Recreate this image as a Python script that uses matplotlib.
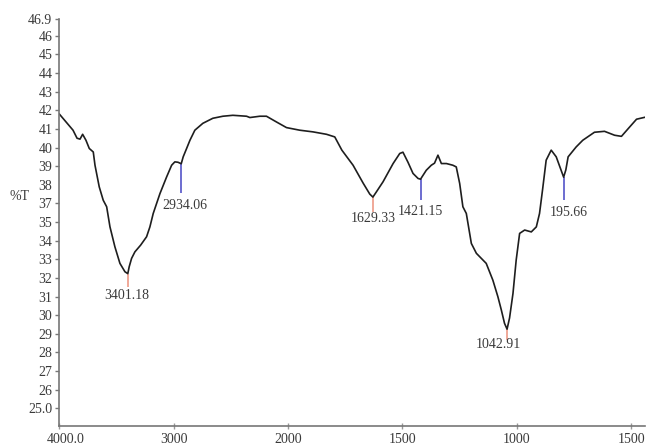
import numpy as np
import matplotlib
matplotlib.use("Agg")
import matplotlib.pyplot as plt
from matplotlib.transforms import ScaledTranslation

# IR transmittance spectrum (wavenumber in cm^-1, transmittance in %T)
wavenumber = [4000, 3880, 3845, 3819, 3796, 3767, 3738, 3703, 3688, 3651,
              3616, 3586, 3557, 3514, 3470, 3426, 3401.18, 3389, 3368, 3339,
              3289, 3237, 3208, 3179, 3120, 3062, 3018, 2990, 2963, 2934.06,
              2917, 2887, 2858, 2815, 2745, 2658, 2570, 2483, 2363, 2334,
              2247, 2189, 2101, 2014, 1949, 1891, 1832, 1796, 1765, 1716,
              1672, 1643, 1629.33, 1614, 1585, 1541, 1512, 1498, 1476, 1454,
              1432, 1421.15, 1396, 1374, 1360, 1345, 1330, 1308, 1280, 1265,
              1250, 1236, 1221, 1199, 1177, 1134, 1105, 1083, 1068, 1054,
              1042.91, 1032, 1017, 1003, 988, 966, 937, 915, 901, 888,
              872, 850, 828, 795.66, 786, 776, 741, 712, 661, 617,
              573, 543, 508, 477, 442]
transmittance = [41.80, 40.93, 40.50, 40.45, 40.71, 40.39, 39.95, 39.76, 39.05, 37.89,
                 37.17, 36.82, 35.74, 34.67, 33.78, 33.33, 33.23, 33.60, 34.05, 34.40,
                 34.76, 35.21, 35.74, 36.46, 37.53, 38.42, 39.05, 39.23, 39.21, 39.13,
                 39.50, 39.95, 40.39, 40.93, 41.30, 41.57, 41.68, 41.73, 41.68, 41.61,
                 41.68, 41.68, 41.37, 41.07, 40.93, 40.84, 40.71, 40.57, 39.86, 39.05,
                 38.09, 37.50, 37.34, 37.62, 38.16, 39.14, 39.68, 39.75, 39.21, 38.61,
                 38.34, 38.30, 38.78, 39.05, 39.16, 39.59, 39.14, 39.14, 39.05, 38.96,
                 38.07, 36.82, 36.46, 34.85, 34.32, 33.78, 32.88, 31.99, 31.28, 30.56,
                 30.25, 30.85, 32.17, 33.96, 35.39, 35.57, 35.47, 35.74, 36.46, 37.71,
                 39.32, 39.86, 39.50, 38.41, 38.80, 39.50, 40.03, 40.39, 40.82, 40.87,
                 40.66, 40.60, 41.09, 41.52, 41.62]

# Picked peaks
peak_wn = [3401.18, 2934.06, 1629.33, 1421.15, 1042.91, 795.66]
peak_t = [33.23, 39.13, 37.34, 38.30, 30.25, 38.41]
peak_text = ["3401.18", "2934.06", "1629.33", "1421.15", "1042.91", "195.66"]
peak_colors = ["#f0a898", "#6c6cd0", "#f0a898", "#6c6cd0", "#f0a898", "#6c6cd0"]

x_ticks = [4000, 3000, 2000, 1500, 1000, 500]
x_labels = ["4000.0", "3000", "2000", "1500", "1000", "1500"]
y_ticks = [46.9, 46, 45, 44, 43, 42, 41, 40, 39, 38, 37, 36, 35, 34, 33,
           32, 31, 30, 29, 28, 27, 26]
y_labels = ["46.9", "46", "45", "44", "43", "42", "41", "40", "39", "38", "37",
            "35", "34", "33", "32", "31", "30", "29", "28", "27", "26", "25.0"]

plt.rcParams["font.family"] = ["Liberation Serif", "DejaVu Serif"]
TXT = "#3a3a3a"

fig = plt.figure(figsize=(6.46, 4.45), dpi=100)
ax = fig.add_axes([59.3 / 646, 1 - 426 / 445, (645 - 59.3) / 646, 407 / 445])


# Below 2000 cm^-1 the wavenumber axis is expanded twofold
def fwd(x):
    x = np.asarray(x, dtype=float)
    return np.where(x >= 2000, x, 2 * x - 2000)


def inv(u):
    u = np.asarray(u, dtype=float)
    return np.where(u >= 2000, u, (u + 2000) / 2)


ax.set_xscale("function", functions=(fwd, inv))
ax.set_xlim(4000, 440)
ax.set_ylim(25.05, 46.9)

ax.plot(wavenumber, transmittance, color="#1e1e1e", lw=1.2)

# Peak markers and labels: (line end below peak, label offset in points)
drops = [0.72, 1.58, 0.81, 1.13, 0.58, 1.24]
label_dy = [1.20, 2.22, 1.13, 1.72, 0.85, 1.88]
label_dx = [-0.5, 2.6, 0.0, 0.0, -6.5, 3.5]
for wn, t, txt, c, dr, dy, dx in zip(peak_wn, peak_t, peak_text, peak_colors,
                                     drops, label_dy, label_dx):
    ax.vlines(wn, t - dr, t, color=c, lw=1.4, zorder=1)
    ax.annotate(txt, xy=(wn, t - dy), xytext=(dx, 0), textcoords="offset points",
                ha="center", va="center", fontsize=10, color=TXT)

ax.set_xticks(x_ticks)
ax.set_xticklabels(x_labels)
ax.set_yticks(y_ticks)
ax.set_yticklabels(y_labels)
ax.xaxis.set_minor_locator(matplotlib.ticker.NullLocator())
ax.yaxis.set_minor_locator(matplotlib.ticker.NullLocator())
ax.tick_params(axis="y", direction="out", length=3, width=1, color="#777777",
               labelsize=10, labelcolor=TXT, pad=2)
ax.tick_params(axis="x", direction="inout", length=4, width=1, color="#999999",
               labelsize=10, labelcolor=TXT, pad=3)
# the 38 label stands without a tick mark
ax.yaxis.get_major_ticks()[9].tick1line.set_visible(False)

# nudge the first wavenumber label right so it clears the figure edge
first = ax.get_xticklabels()[0]
first.set_transform(first.get_transform() + ScaledTranslation(6 / 100, 0, fig.dpi_scale_trans))

for side in ("top", "right"):
    ax.spines[side].set_visible(False)
for side in ("left", "bottom"):
    ax.spines[side].set_color("#777777")
    ax.spines[side].set_linewidth(1.2)

fig.text(20 / 646, 1 - 197 / 445, "%T", ha="center", va="center",
         fontsize=10, color=TXT)

fig.savefig("out.png", dpi=100)
